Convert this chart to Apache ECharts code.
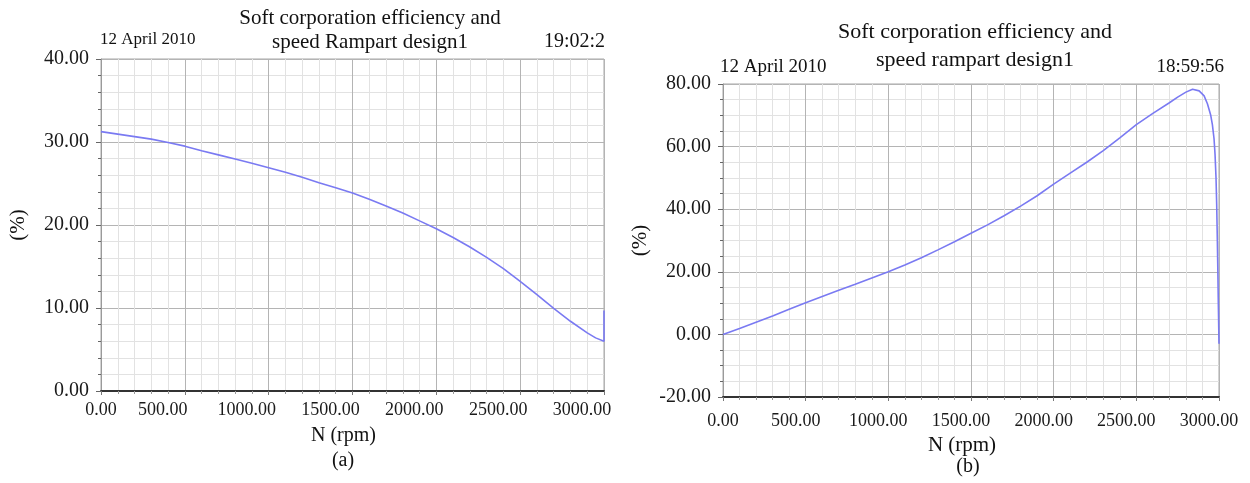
<!DOCTYPE html>
<html>
<head>
<meta charset="utf-8">
<script src="https://cdn.jsdelivr.net/npm/echarts@6/dist/echarts.min.js"></script>
<style>
  html, body { margin: 0; padding: 0; background: #fff; }
  #chart { width: 1250px; height: 483px; }
</style>
</head>
<body>
<div id="chart"></div>
<script>
// (a) efficiency vs speed
const rpmA = [0, 100, 200, 300, 400, 500, 600, 700, 800, 900, 1000, 1100, 1200, 1300, 1400, 1500,
  1600, 1700, 1800, 1900, 2000, 2100, 2200, 2300, 2400, 2500, 2600, 2700, 2800, 2900, 2950, 3000, 3000]
const effA = [31.25, 30.95, 30.65, 30.35, 29.95, 29.5, 28.95, 28.45, 27.95, 27.45, 26.9, 26.35, 25.75, 25.1, 24.5, 23.85,
  23.1, 22.3, 21.45, 20.5, 19.55, 18.5, 17.35, 16.1, 14.75, 13.2, 11.6, 9.95, 8.4, 7.0, 6.4, 6.0, 9.7]

// (b) efficiency vs speed
const rpmB = [0, 100, 200, 300, 400, 500, 600, 700, 800, 900, 1000, 1100, 1200, 1300, 1400, 1500,
  1600, 1700, 1800, 1900, 2000, 2100, 2200, 2300, 2400, 2500, 2600, 2700, 2750, 2800, 2840, 2880,
  2910, 2930, 2950, 2960, 2970, 2976, 2982, 2986, 2990, 2993, 2996, 3000]
const effB = [0, 1.9, 3.9, 5.9, 8.0, 10.1, 12.1, 14.1, 16.0, 18.0, 20.0, 22.2, 24.5, 27.0, 29.6, 32.3,
  35.0, 37.9, 41.0, 44.3, 48.0, 51.5, 55.0, 58.7, 62.8, 67.0, 70.6, 74.0, 75.8, 77.4, 78.3, 77.8,
  76.2, 73.7, 70.0, 67.0, 62.5, 57.6, 50.0, 41.6, 30.0, 20.4, 9.8, -3.0]

const xTicks = ['0.00', '500.00', '1000.00', '1500.00', '2000.00', '2500.00', '3000.00']

const FONT = "'Liberation Serif', 'Times New Roman', serif"
const LINE = '#7a7af2'

function xAxisOf(gridIndex, shift, margin, nameGap, nameSize) {
  return {
    gridIndex: gridIndex,
    type: 'value',
    min: 0,
    max: 3000,
    interval: 500,
    name: 'N (rpm)',
    nameLocation: 'middle',
    nameGap: nameGap,
    nameTextStyle: { fontFamily: FONT, fontSize: nameSize, color: '#111', padding: [0, 18, 0, 0] },
    axisLine: { onZero: false, lineStyle: { color: '#333', width: 2 } },
    axisTick: { show: true, length: 4, lineStyle: { color: '#777' } },
    minorTick: { show: true, splitNumber: 5, length: 3, lineStyle: { color: '#999' } },
    axisLabel: {
      margin: margin,
      fontFamily: FONT,
      fontSize: 18,
      color: '#1a1a1a',
      formatter: function (v) {
        const t = xTicks[Math.round(v / 500)]
        return v === 0 ? '{z|' + t + '}' : '{n|' + t + '}'
      },
      rich: {
        z: { fontFamily: FONT, fontSize: 18, color: '#1a1a1a' },
        n: { fontFamily: FONT, fontSize: 18, color: '#1a1a1a', padding: [0, shift, 0, 0] }
      }
    },
    splitLine: { show: true, lineStyle: { color: '#b4b4b4', width: 1 } },
    minorSplitLine: { show: true, lineStyle: { color: '#e2e2e2', width: 1 } }
  }
}

function yAxisOf(gridIndex, min, max, interval, minorSplit) {
  return {
    gridIndex: gridIndex,
    type: 'value',
    min: min,
    max: max,
    interval: interval,
    name: '(%)',
    nameLocation: 'middle',
    nameGap: 72,
    nameRotate: 90,
    nameTextStyle: { fontFamily: FONT, fontSize: 21, color: '#111' },
    axisLine: { show: true, onZero: false, lineStyle: { color: '#9a9a9a', width: 1 } },
    axisTick: { show: true, length: 5, lineStyle: { color: '#666' } },
    minorTick: { show: true, splitNumber: minorSplit, length: 3, lineStyle: { color: '#666' } },
    axisLabel: {
      margin: 12,
      fontFamily: FONT,
      fontSize: 20,
      color: '#1a1a1a',
      formatter: function (v) { return v.toFixed(2) }
    },
    splitLine: { show: true, lineStyle: { color: '#b4b4b4', width: 1 } },
    minorSplitLine: { show: true, lineStyle: { color: '#e2e2e2', width: 1 } }
  }
}

function txt(x, y, text, size, align) {
  return {
    type: 'text',
    x: x,
    y: y,
    z: 10,
    style: {
      text: text,
      font: size + 'px ' + FONT,
      fill: '#111',
      textAlign: align,
      align: align,
      textVerticalAlign: 'middle',
      verticalAlign: 'middle'
    }
  }
}

const chart = echarts.init(document.getElementById('chart'))
chart.setOption({
  backgroundColor: '#fff',
  animation: false,
  grid: [
    { left: 101, top: 59, width: 503, height: 332, show: true, borderColor: '#a6a6a6', borderWidth: 1 },
    { left: 723, top: 84, width: 496, height: 313, show: true, borderColor: '#a6a6a6', borderWidth: 1 }
  ],
  xAxis: [xAxisOf(0, 44, 10, 35, 20), xAxisOf(1, 20, 15, 34, 21)],
  yAxis: [yAxisOf(0, 0, 40, 10, 5), yAxisOf(1, -20, 80, 20, 4)],
  graphic: [
    txt(370, 18, 'Soft corporation efficiency and', 21, 'center'),
    txt(370, 42, 'speed Rampart design1', 21, 'center'),
    txt(100, 40, '12 April 2010', 17, 'left'),
    txt(605, 42, '19:02:2', 20, 'right'),
    txt(975, 32, 'Soft corporation efficiency and', 22, 'center'),
    txt(975, 60, 'speed rampart design1', 22, 'center'),
    txt(720, 67, '12 April 2010', 19, 'left'),
    txt(1224, 67, '18:59:56', 19, 'right'),
    txt(343, 461, '(a)', 20, 'center'),
    txt(968, 467, '(b)', 20, 'center')
  ],
  series: [
    {
      type: 'line',
      xAxisIndex: 0,
      yAxisIndex: 0,
      data: rpmA.map(function (r, i) { return [r, effA[i]] }),
      showSymbol: false,
      smooth: false,
      lineStyle: { color: LINE, width: 1.6 }
    },
    {
      type: 'line',
      xAxisIndex: 1,
      yAxisIndex: 1,
      data: rpmB.map(function (r, i) { return [r, effB[i]] }),
      showSymbol: false,
      smooth: false,
      lineStyle: { color: LINE, width: 1.6 }
    }
  ]
})
</script>
</body>
</html>
